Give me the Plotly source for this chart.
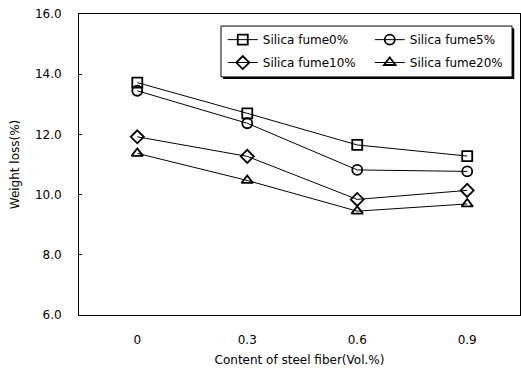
import plotly.graph_objects as go

x_labels = ["0", "0.3", "0.6", "0.9"]
sf0 = [13.72, 12.70, 11.65, 11.28]
sf5 = [13.45, 12.37, 10.82, 10.77]
sf10 = [11.92, 11.27, 9.84, 10.14]
sf20 = [11.37, 10.47, 9.45, 9.69]

series = [
    ("Silica fume0%", sf0, "square-open", "legend"),
    ("Silica fume5%", sf5, "circle-open", "legend"),
    ("Silica fume10%", sf10, "diamond-open", "legend2"),
    ("Silica fume20%", sf20, "triangle-up-open", "legend2"),
]

fig = go.Figure()
for name, vals, sym, leg in series:
    fig.add_trace(go.Scatter(
        x=x_labels, y=vals, name=name, mode="lines+markers", legend=leg,
        line=dict(color="black", width=1),
        marker=dict(symbol=sym, size=10, color="black", line=dict(width=1.8, color="black")),
    ))

fam = "DejaVu Sans, Verdana, sans-serif"
font = dict(family=fam, size=12, color="black")
legfont = dict(family=fam, size=12, color="black")

# legend frame with drop shadow
fig.add_shape(type="rect", xref="paper", yref="paper", x0=0.327, x1=0.987, y0=0.784, y1=0.953,
              fillcolor="black", line=dict(width=0), layer="above")
fig.add_shape(type="rect", xref="paper", yref="paper", x0=0.322, x1=0.982, y0=0.791, y1=0.960,
              fillcolor="white", line=dict(color="black", width=1), layer="above")

leg_common = dict(orientation="h", xanchor="left", yanchor="top",
                  entrywidth=102, entrywidthmode="pixels",
                  bgcolor="rgba(0,0,0,0)", borderwidth=0, font=legfont, itemwidth=30)
fig.update_layout(
    width=521, height=372,
    margin=dict(l=79, r=1, t=14, b=57, autoexpand=False),
    paper_bgcolor="white", plot_bgcolor="white",
    font=font,
    showlegend=True,
    legend=dict(x=0.326, y=0.963, **leg_common),
    legend2=dict(x=0.326, y=0.887, **leg_common),
    xaxis=dict(
        type="category", range=[-0.53, 3.48],
        showgrid=False, zeroline=False,
        showline=True, linecolor="black", linewidth=1, mirror=True,
        ticks="", tickfont=font, ticklabelstandoff=14,
        title=dict(text="Content of steel fiber(Vol.%)", font=font, standoff=9),
    ),
    yaxis=dict(
        range=[6, 16], tickvals=[6, 8, 10, 12, 14, 16],
        ticktext=["6.0", "8.0", "10.0", "12.0", "14.0", "16.0"],
        showgrid=False, zeroline=False,
        showline=True, linecolor="black", linewidth=1, mirror=True,
        ticks="inside", ticklen=3, tickcolor="black", tickfont=font,
        ticklabelstandoff=14,
        title=dict(text="Weight loss(%)", font=font, standoff=12),
    ),
)

fig.write_html("out.html")
